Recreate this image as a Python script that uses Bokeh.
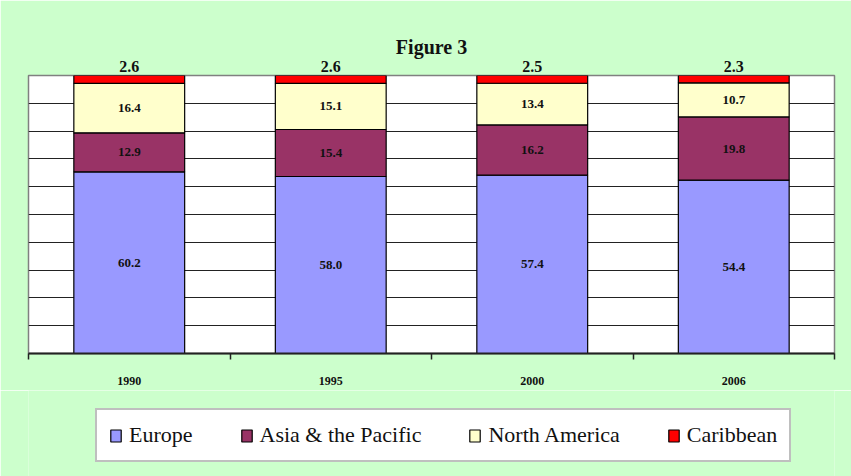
from bokeh.plotting import figure
from bokeh.models import (ColumnDataSource, Range1d, LinearAxis, FixedTicker, Legend, LegendItem)
from bokeh.layouts import column
from bokeh.embed import file_html
from bokeh.resources import INLINE
from bokeh.core.properties import value

# ---- data ----
years = ["1990", "1995", "2000", "2006"]
regions = ["Europe", "Asia & the Pacific", "North America", "Caribbean"]
europe = [60.2, 58.0, 57.4, 54.4]
asia_pacific = [12.9, 15.4, 16.2, 19.8]
north_america = [16.4, 15.1, 13.4, 10.7]
caribbean = [2.6, 2.6, 2.5, 2.3]
colors = ["#9999FF", "#993366", "#FFFFCC", "#FF0000"]
title_text = "Figure 3"

SERIF = "Liberation Serif"
BG = "#CCFFCC"

series = [europe, asia_pacific, north_america, caribbean]
keys = ["eu", "ap", "na", "ca"]
totals = [sum(vals) for vals in zip(*series)]
n = len(years)
centers = [i + 0.5 for i in range(n)]   # category slots on a linear scale

# 100% stacked: each column normalised to its own total
data = {"pos": centers, "year": years}
for k, s in zip(keys, series):
    data[k] = [v / t for v, t in zip(s, totals)]
source = ColumnDataSource(data)

p = figure(width=851, height=390, x_range=Range1d(0, n), y_range=Range1d(0, 1),
           output_backend="svg", toolbar_location=None,
           x_axis_location=None, y_axis_location=None,
           min_border_left=28, min_border_right=17, min_border_top=75, min_border_bottom=37)
p.background_fill_color = "white"
p.border_fill_color = BG
p.outline_line_color = "#808080"
p.outline_line_width = 1.5
p.xgrid.grid_line_color = None
p.ygrid.ticker = FixedTicker(ticks=[i / 10 for i in range(1, 10)])
p.ygrid.grid_line_color = "#222222"
p.ygrid.grid_line_width = 1

renderers = p.vbar_stack(keys, x="pos", width=0.55, source=source, color=colors,
                         line_color="black", line_width=1.2)

# labels inside the segments (first three series)
lx, ly, lt = [], [], []
for i in range(n):
    base = 0.0
    for k, s in zip(keys[:3], series[:3]):
        frac = data[k][i]
        lx.append(centers[i])
        ly.append(base + frac / 2)
        lt.append("%.1f" % s[i])
        base += frac
p.text(x="x", y="y", text="t", source=ColumnDataSource(dict(x=lx, y=ly, t=lt)),
       text_font=value(SERIF), text_font_style="bold", text_font_size="13px",
       text_align="center", text_baseline="middle", text_color="#111111")

# labels of the thin top series, shown above the columns (axis on top of the frame)
top_axis = LinearAxis(ticker=FixedTicker(ticks=centers, minor_ticks=[]),
                      major_label_overrides={c: "%.1f" % v for c, v in zip(centers, caribbean)},
                      axis_line_color=None, major_tick_line_color=None, minor_tick_line_color=None,
                      major_tick_in=0, major_tick_out=0, major_label_standoff=4,
                      major_label_text_font=SERIF, major_label_text_font_style="bold",
                      major_label_text_font_size="16px", major_label_text_color="#111111")
p.add_layout(top_axis, "above")

# title
p.title.text = title_text
p.title.align = "center"
p.title.text_font = SERIF
p.title.text_font_style = "bold"
p.title.text_font_size = "20px"
p.title.text_color = "#111111"
p.title.standoff = 0

# category axis: labels at slot centres, tick marks between categories
x_axis = LinearAxis(ticker=FixedTicker(ticks=centers, minor_ticks=list(range(n + 1))),
                    major_label_overrides={c: y for c, y in zip(centers, years)},
                    major_tick_in=0, major_tick_out=0,
                    minor_tick_in=0, minor_tick_out=6,
                    minor_tick_line_color="#222222", minor_tick_line_width=1.5,
                    axis_line_color="#222222", axis_line_width=2,
                    major_label_standoff=17,
                    major_label_text_font=SERIF, major_label_text_font_style="bold",
                    major_label_text_font_size="12px", major_label_text_color="#111111")
p.add_layout(x_axis, "below")

# legend strip under the chart (same series drawn far out of view, used only for the legend keys)
q = figure(width=851, height=86, x_range=Range1d(0, n), y_range=Range1d(10, 11),
           output_backend="svg", toolbar_location=None,
           x_axis_location=None, y_axis_location=None,
           min_border_left=0, min_border_right=0, min_border_top=0, min_border_bottom=0)
q.background_fill_color = BG
q.border_fill_color = BG
q.outline_line_color = None
q.grid.grid_line_color = None
proxies = q.vbar_stack(keys, x="pos", width=0.55, source=source, color=colors,
                       line_color="black", line_width=1.2)

legend = Legend(items=[LegendItem(label=r, renderers=[rr]) for r, rr in zip(regions, proxies)],
                orientation="horizontal", location=(67, 14), padding=12, spacing=47,
                margin=0, glyph_width=13, glyph_height=15, label_standoff=7,
                label_text_font=SERIF, label_text_font_size="22px", label_text_color="#111111",
                border_line_color="#808080", border_line_width=2,
                background_fill_color="white", background_fill_alpha=1)
q.add_layout(legend, "center")

page = column(p, q)
open("out.html", "w").write(file_html(page, INLINE))
